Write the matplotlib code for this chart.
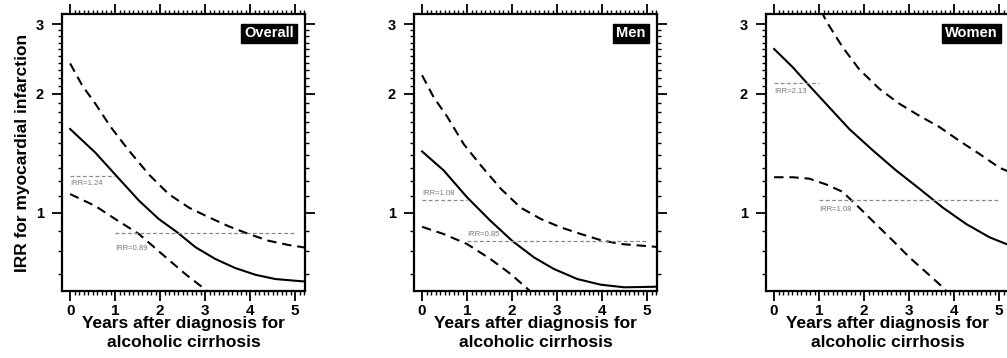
import numpy as np
import matplotlib
matplotlib.use("Agg")
import matplotlib.pyplot as plt
from matplotlib.ticker import FixedLocator, FixedFormatter, NullFormatter
from matplotlib.transforms import blended_transform_factory

plt.rcParams['font.family'] = ['Liberation Sans', 'DejaVu Sans']
plt.rcParams['font.weight'] = 'bold'

# values (years after diagnosis, IRR)
panel_names = ['Overall', 'Men', 'Women']

overall_x = [0, 0.56, 1.0, 1.53, 1.97, 2.38, 2.79, 3.23, 3.67, 4.12, 4.56, 5.16, 5.22]
overall_est = [1.63, 1.42, 1.25, 1.073, 0.964, 0.892, 0.817, 0.763, 0.724, 0.696, 0.679, 0.670, 0.670]
overall_up_x = [0, 0.27, 0.56, 0.9, 1.3, 1.75, 2.19, 2.64, 3.08, 3.53, 3.97, 4.41, 4.86, 5.22]
overall_up = [2.39, 2.10, 1.89, 1.65, 1.44, 1.25, 1.115, 1.03, 0.974, 0.923, 0.883, 0.849, 0.828, 0.816]
overall_lo_x = [0, 0.56, 1.0, 1.53, 2.04, 2.56, 3.04, 3.1]
overall_lo = [1.115, 1.04, 0.964, 0.883, 0.786, 0.699, 0.634, 0.625]

men_x = [0, 0.48, 1.0, 1.52, 2.0, 2.49, 2.93, 3.45, 3.97, 4.49, 5.16, 5.22]
men_est = [1.43, 1.28, 1.094, 0.954, 0.849, 0.770, 0.720, 0.679, 0.657, 0.647, 0.649, 0.650]
men_up_x = [0, 0.26, 0.56, 0.93, 1.3, 1.75, 2.19, 2.64, 3.08, 3.53, 3.97, 4.42, 5.16, 5.22]
men_up = [2.23, 1.96, 1.75, 1.49, 1.32, 1.15, 1.03, 0.964, 0.918, 0.883, 0.852, 0.833, 0.820, 0.819]
men_lo_x = [0, 0.48, 1.0, 1.52, 1.97, 2.38, 2.45]
men_lo = [0.921, 0.883, 0.833, 0.763, 0.699, 0.636, 0.625]

women_x = [0, 0.41, 0.78, 1.15, 1.67, 2.19, 2.71, 3.23, 3.75, 4.27, 4.79, 5.16, 5.22]
women_est = [2.60, 2.34, 2.10, 1.89, 1.63, 1.44, 1.28, 1.15, 1.03, 0.936, 0.866, 0.833, 0.828]
women_up_x = [1.05, 1.15, 1.52, 1.89, 2.34, 2.78, 3.23, 3.67, 4.12, 4.56, 5.01, 5.22]
women_up = [3.25, 3.07, 2.63, 2.31, 2.06, 1.89, 1.76, 1.65, 1.52, 1.41, 1.30, 1.27]
women_lo_x = [0, 0.41, 0.78, 1.15, 1.52, 1.89, 2.26, 2.64, 3.01, 3.38, 3.75, 3.82]
women_lo = [1.23, 1.23, 1.22, 1.18, 1.13, 1.03, 0.936, 0.849, 0.770, 0.706, 0.647, 0.635]

# reference IRR lines: value, x start, x end, label offset (points, + above / - below)
overall_irr = [(1.24, 0, 1, -5.5), (0.89, 1, 5, -11.5)]
men_irr = [(1.08, 0, 1, 4.6), (0.85, 1, 5, 4.0)]
women_irr = [(2.13, 0, 1, -5.8), (1.08, 1, 5, -6.9)]

panels = [
    (overall_x, overall_est, overall_up_x, overall_up, overall_lo_x, overall_lo, overall_irr),
    (men_x, men_est, men_up_x, men_up, men_lo_x, men_lo, men_irr),
    (women_x, women_est, women_up_x, women_up, women_lo_x, women_lo, women_irr),
]
lefts = [0.0616, 0.4111, 0.7607]

fig = plt.figure(figsize=(10.07, 3.58), dpi=100)

for i, (name, data) in enumerate(zip(panel_names, panels)):
    ex, ey, ux, uy, lx, ly, irr = data
    ax = fig.add_axes([lefts[i], 0.187, 0.2413, 0.774])
    ax.set_yscale('log')
    ax.set_xlim(-0.18, 5.22)
    ax.set_ylim(0.633, 3.19)

    ax.plot(ex, ey, color='black', lw=1.5, solid_joinstyle='round')
    ax.plot(ux, uy, color='black', lw=1.5, dashes=(4.5, 2.8))
    ax.plot(lx, ly, color='black', lw=1.5, dashes=(4.5, 2.8))

    for val, x0, x1, off in irr:
        ax.plot([x0, x1], [val, val], color='#8a8a8a', lw=0.9, dashes=(3, 2))
        ax.annotate('IRR=%.2f' % val, (x0, val), xytext=(0, off), textcoords='offset points',
                    fontsize=5.5, fontweight='normal', color='#777777', ha='left', va='center')

    ax.text(4.97, 0.955, name, transform=blended_transform_factory(ax.transData, ax.transAxes),
            ha='right', va='top', color='white', fontsize=10.5, fontweight='bold',
            bbox=dict(boxstyle='square,pad=0.2', fc='black', ec='black'))

    ax.yaxis.set_major_locator(FixedLocator([1, 2, 3]))
    ax.yaxis.set_major_formatter(FixedFormatter(['1', '2', '3']))
    ax.yaxis.set_minor_locator(FixedLocator([0.7, 0.8, 0.9] + list(np.arange(1.1, 2.0, 0.1))
                                            + list(np.arange(2.1, 3.0, 0.1))))
    ax.yaxis.set_minor_formatter(NullFormatter())
    ax.set_xticks([0, 1, 2, 3, 4, 5])
    ax.xaxis.set_minor_locator(FixedLocator(np.arange(0, 5.25, 0.1)))

    ax.tick_params(which='major', direction='out', length=7, width=1.3,
                   top=True, right=True)
    ax.tick_params(axis='x', which='major', labelsize=11, pad=2)
    ax.tick_params(axis='y', which='major', labelsize=10.5, pad=6)
    ax.tick_params(which='minor', direction='out', length=3, width=1.0, top=True, right=True)
    for sp in ax.spines.values():
        sp.set_linewidth(1.6)

    ax.set_xlabel('Years after diagnosis for\nalcoholic cirrhosis', fontsize=12.5,
                  fontweight='bold', labelpad=-1, linespacing=1.3)
    if i == 0:
        ax.set_ylabel('IRR for myocardial infarction', fontsize=12.5, fontweight='bold',
                      labelpad=4)

fig.savefig('out.png', dpi=100)
